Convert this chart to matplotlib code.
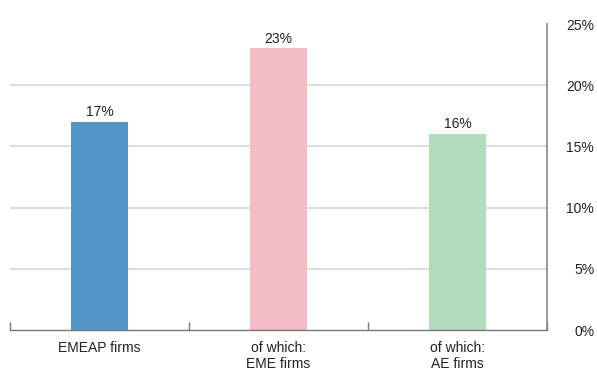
import matplotlib
matplotlib.use("Agg")
import matplotlib.pyplot as plt
from matplotlib.ticker import FixedLocator

categories = ["EMEAP firms", "of which:\nEME firms", "of which:\nAE firms"]
values = [17, 23, 16]
colors = ["#5596c8", "#f4bcc4", "#b3dbbf"]
yticks = [0, 5, 10, 15, 20, 25]
ytick_labels = ["0%", "5%", "10%", "15%", "20%", "25%"]

plt.rcParams['font.family'] = ['Liberation Sans', 'DejaVu Sans']

fig = plt.figure(figsize=(5.97, 3.70), dpi=100)
ax = fig.add_axes([10/597, 40/370, 537/597, 306/370])

x = list(range(len(categories)))
ax.bar(x, values, width=0.32, color=colors, zorder=2)
for xi, v in zip(x, values):
    ax.annotate(f"{v}%", (xi, v), xytext=(0, 2), textcoords="offset points",
                ha="center", va="bottom", fontsize=10, color="#222222")

ax.set_xlim(-0.5, 2.5)
ax.set_ylim(0, 25)

for y in [5, 10, 15, 20]:
    ax.axhline(y, color="#dddddd", lw=1.5, zorder=1)

ax.yaxis.tick_right()
ax.set_yticks(yticks)
ax.set_yticklabels(ytick_labels, fontsize=10, color="#222222", ha="right")
ax.tick_params(axis="y", length=0, pad=34)

ax.set_xticks(x)
ax.set_xticklabels(categories, fontsize=10, color="#222222", linespacing=1.2)
ax.tick_params(axis="x", which="major", length=0, pad=8)
ax.xaxis.set_minor_locator(FixedLocator([-0.5, 0.5, 1.5, 2.5]))
ax.tick_params(axis="x", which="minor", direction="in", length=6, width=1, color="#777777")

for s in ["top", "left"]:
    ax.spines[s].set_visible(False)
ax.spines["bottom"].set_color("#777777")
ax.spines["right"].set_color("#888888")
ax.spines["bottom"].set_linewidth(1)
ax.spines["right"].set_linewidth(1.2)

fig.savefig("out.png", dpi=100)
